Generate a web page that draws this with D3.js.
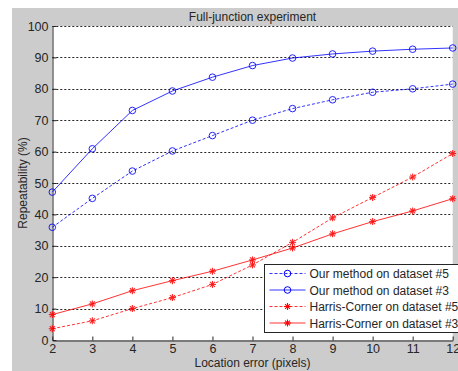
<!DOCTYPE html>
<html>
<head>
<meta charset="utf-8">
<script src="https://cdn.jsdelivr.net/npm/d3@7"></script>
<style>
	body { margin: 0; background: #fff; }
	svg { display: block; font-family: "Liberation Sans", Arial, sans-serif; }
</style>
</head>
<body>
<div id="box"></div>
<script>
// location error (pixels)
const xs = [2, 3, 4, 5, 6, 7, 8, 9, 10, 11, 12];
const ourDs5 = [35.9, 45.1, 53.8, 60.2, 65.1, 70.0, 73.7, 76.5, 78.9, 80.0, 81.5];
const ourDs3 = [47.1, 60.9, 73.1, 79.3, 83.7, 87.4, 89.8, 91.1, 92.0, 92.6, 93.0];
const harrisDs5 = [3.6, 6.1, 10.0, 13.5, 17.7, 23.9, 31.1, 38.9, 45.4, 51.9, 59.4];
const harrisDs3 = [8.1, 11.5, 15.7, 18.9, 21.9, 25.5, 29.3, 33.8, 37.7, 41.1, 45.0];
const yTicks = [0, 10, 20, 30, 40, 50, 60, 70, 80, 90, 100];
const xTicks = [2, 3, 4, 5, 6, 7, 8, 9, 10, 11, 12];

const series = [
	{ name: 'Our method on dataset #5', values: ourDs5, color: '#0000ff', dash: '3,2', marker: 'circle' },
	{ name: 'Our method on dataset #3', values: ourDs3, color: '#0000ff', dash: null, marker: 'circle' },
	{ name: 'Harris-Corner on dataset #5', values: harrisDs5, color: '#ff0000', dash: '3,2', marker: 'star' },
	{ name: 'Harris-Corner on dataset #3', values: harrisDs3, color: '#ff0000', dash: null, marker: 'star' },
];

const width = 458;
const height = 371;
const marginLeft = 52.3;
const marginRight = 5.3;
const marginTop = 26;
const marginBottom = 31;

const xScale = d3.scaleLinear([2, 12], [marginLeft, width - marginRight]);
const yScale = d3.scaleLinear([0, 100], [height - marginBottom, marginTop]);

const svg = d3.select('#box').append('svg')
	.attr('width', width)
	.attr('height', height)
	.attr('viewBox', [0, 0, width, height]);

// figure background
svg.append('rect')
	.attr('x', 12).attr('y', 8)
	.attr('width', width - 12).attr('height', height - 8)
	.attr('fill', '#cccccc');

// plot area
svg.append('rect')
	.attr('x', marginLeft).attr('y', marginTop)
	.attr('width', xScale(12) - marginLeft)
	.attr('height', yScale(0) - marginTop)
	.attr('fill', '#fff');

// grid lines
svg.append('g')
	.selectAll('line')
	.data(yTicks.filter(d => d > 0))
	.join('line')
	.attr('x1', marginLeft)
	.attr('x2', xScale(12))
	.attr('y1', d => Math.round(yScale(d)) + 0.5)
	.attr('y2', d => Math.round(yScale(d)) + 0.5)
	.attr('stroke', '#222')
	.attr('stroke-width', 1)
	.attr('stroke-dasharray', '2,2');

const xAxis = d3.axisBottom(xScale).tickValues(xTicks).tickSizeInner(-4).tickSizeOuter(0).tickPadding(4);
const yAxis = d3.axisLeft(yScale).tickValues(yTicks).tickSizeInner(-4).tickSizeOuter(0).tickPadding(4);

svg.append('g')
	.attr('transform', `translate(0,${Math.round(yScale(0)) + 0.5})`)
	.call(xAxis)
	.call(g => g.selectAll('text').attr('font-size', 12.5).attr('fill', '#262626').attr('font-family', null))
	.call(g => g.selectAll('line, path').attr('stroke', '#262626'));

svg.append('g')
	.attr('transform', `translate(${Math.round(marginLeft) + 0.5},0)`)
	.call(yAxis)
	.call(g => g.selectAll('text').attr('font-size', 12.5).attr('fill', '#262626').attr('font-family', null))
	.call(g => g.selectAll('line, path').attr('stroke', '#262626'));

// title and labels
svg.append('text')
	.attr('x', (marginLeft + xScale(12)) / 2)
	.attr('y', 21)
	.attr('text-anchor', 'middle')
	.attr('font-size', 12)
	.attr('fill', '#262626')
	.text('Full-junction experiment');

svg.append('text')
	.attr('x', (marginLeft + xScale(12)) / 2)
	.attr('y', 367)
	.attr('text-anchor', 'middle')
	.attr('font-size', 12)
	.attr('fill', '#262626')
	.text('Location error (pixels)');

svg.append('text')
	.attr('transform', `translate(27,${(marginTop + yScale(0)) / 2}) rotate(-90)`)
	.attr('text-anchor', 'middle')
	.attr('font-size', 12)
	.attr('fill', '#262626')
	.text('Repeatability (%)');

function drawMarker(g, type, x, y, color) {
	if (type === 'circle') {
		g.append('circle')
			.attr('cx', x).attr('cy', y).attr('r', 3.3)
			.attr('fill', 'none')
			.attr('stroke', color)
			.attr('stroke-width', 1);
	} else {
		const r = 3.5;
		const p = [
			[[-r, 0], [r, 0]],
			[[0, -r], [0, r]],
			[[-r * 0.7, -r * 0.7], [r * 0.7, r * 0.7]],
			[[-r * 0.7, r * 0.7], [r * 0.7, -r * 0.7]],
		];
		for (const [a, b] of p) {
			g.append('line')
				.attr('x1', x + a[0]).attr('y1', y + a[1])
				.attr('x2', x + b[0]).attr('y2', y + b[1])
				.attr('stroke', color)
				.attr('stroke-width', 1.1);
		}
	}
}

const line = d3.line()
	.x((_, i) => xScale(xs[i]))
	.y(d => yScale(d));

for (const s of series) {
	svg.append('path')
		.attr('fill', 'none')
		.attr('stroke', s.color)
		.attr('stroke-opacity', 0.8)
		.attr('stroke-width', 1)
		.attr('stroke-dasharray', s.dash)
		.attr('d', line(s.values));
	const mg = svg.append('g').attr('opacity', 0.85);
	s.values.forEach((v, i) => drawMarker(mg, s.marker, xScale(xs[i]), yScale(v), s.color));
}

// legend
const lg = svg.append('g').attr('transform', 'translate(264.5,264.5)');
lg.append('rect')
	.attr('width', 200).attr('height', 68)
	.attr('fill', '#fff')
	.attr('stroke', '#262626')
	.attr('stroke-width', 1);

series.forEach((s, i) => {
	const y = 9 + i * 16.5;
	lg.append('line')
		.attr('x1', 5).attr('x2', 41)
		.attr('y1', y).attr('y2', y)
		.attr('stroke', s.color)
		.attr('stroke-opacity', 0.8)
		.attr('stroke-dasharray', s.dash);
	drawMarker(lg, s.marker, 23, y, s.color);
	lg.append('text')
		.attr('x', 45)
		.attr('y', y + 4.5)
		.attr('font-size', 12)
		.attr('fill', '#262626')
		.text(s.name);
});
</script>
</body>
</html>
